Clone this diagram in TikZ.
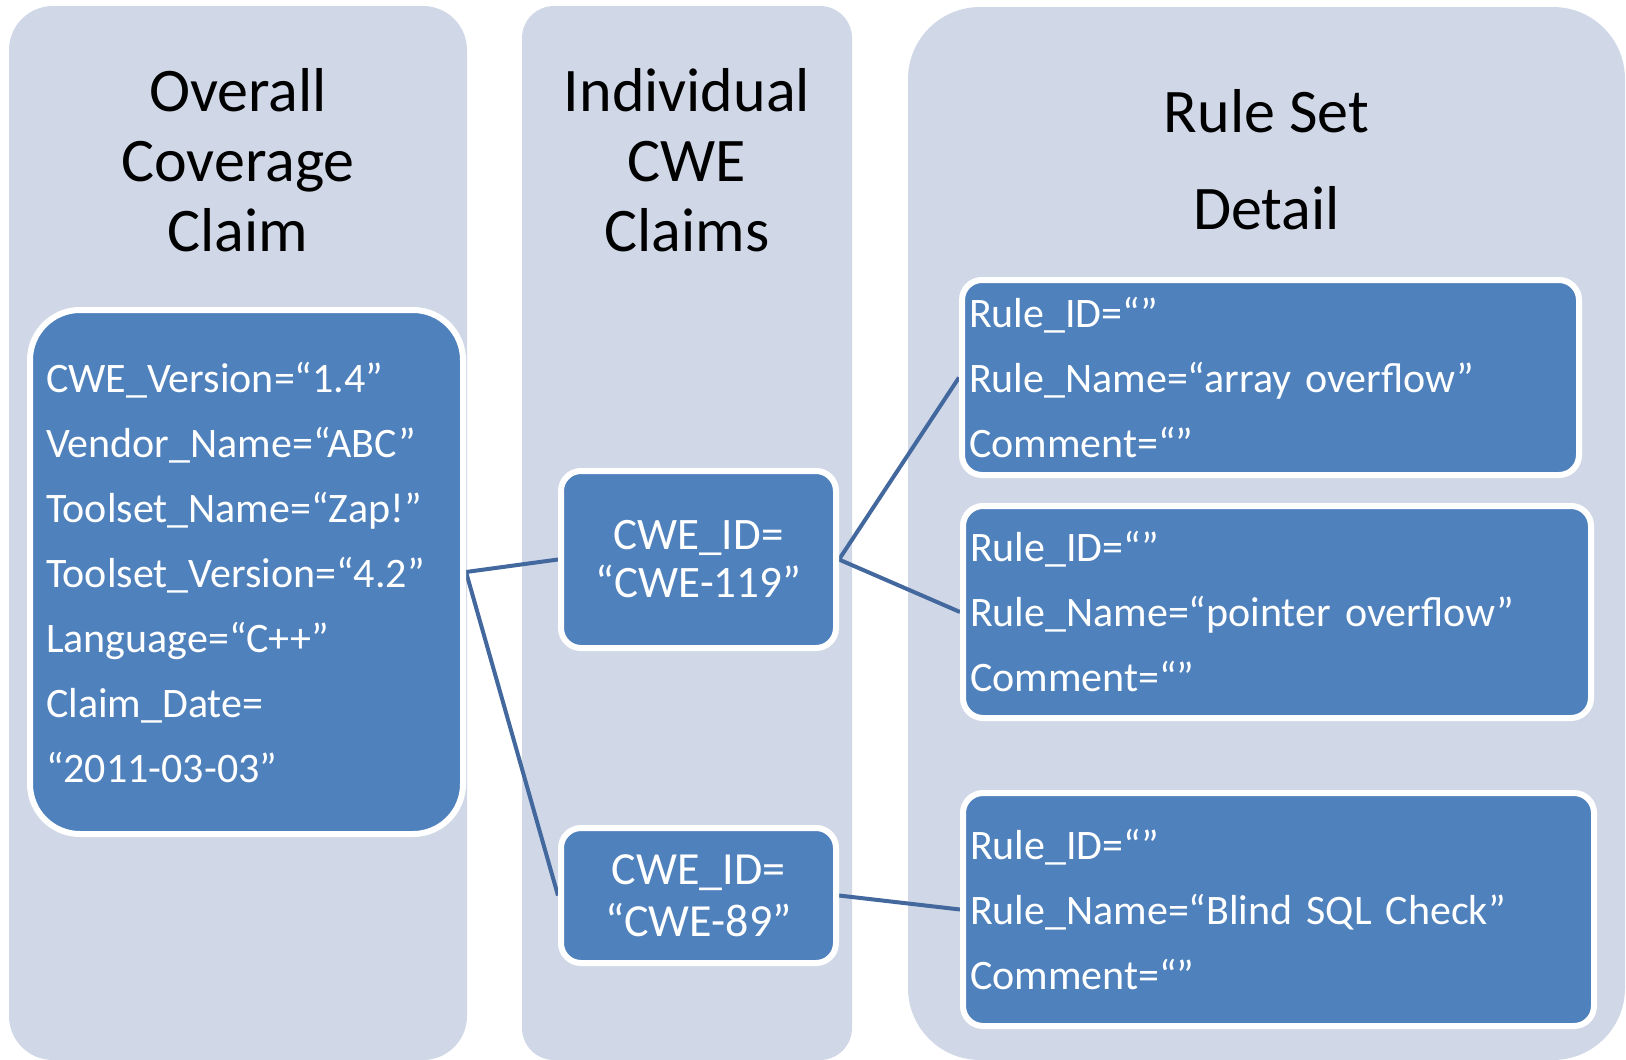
\documentclass[tikz,border=0pt]{standalone}
\usepackage{fontspec}
\setmainfont{Carlito}
\definecolor{panelbg}{RGB}{208,216,232}
\definecolor{boxblue}{RGB}{79,129,189}
\definecolor{linkblue}{RGB}{67,104,158}
\pgfdeclarelayer{panels}
\pgfdeclarelayer{links}
\pgfsetlayers{panels,links,main}

\begin{document}
\begin{tikzpicture}[x=1pt,y=-1pt,
  panel/.style={rectangle, fill=panelbg, draw=none, inner sep=0pt},
  title/.style={font=\fontsize{62}{70}\selectfont, align=center, inner sep=0pt, text=black},
  rec/.style={rectangle, fill=boxblue, draw=white, line width=6pt, text=white,
              rounded corners=20pt, inner ysep=0pt, font=\fontsize{42}{65}\selectfont},
  link/.style={draw=linkblue, line width=4pt}
]
\useasboundingbox (0,0) rectangle (1626,1060);

% column backgrounds
\begin{pgfonlayer}{panels}
  \node[panel, rounded corners=44pt, minimum width=458pt, minimum height=1054pt] (colA) at (238,533) {};
  \node[panel, rounded corners=32pt, minimum width=330pt, minimum height=1054pt] (colB) at (687,533) {};
  \node[panel, rounded corners=72pt, minimum width=717pt, minimum height=1053pt] (colC) at (1266.5,533.5) {};
\end{pgfonlayer}

% column headings
\node[title] (headA) at (238,160.5) {Overall\\Coverage\\Claim};
\node[title] (headB) at (687,160.5) {Individual\\CWE\\Claims};
\node[title, font=\fontsize{62}{97}\selectfont] (headC) at (1266.5,160) {Rule Set\\Detail};

% overall claim
\node[rec, rounded corners=50pt, minimum width=433pt, minimum height=524pt,
      text width=401pt, inner xsep=16pt, align=left] (overall) at (246.5,572)
  {CWE\_Version=“1.4”\\Vendor\_Name=“ABC”\\Toolset\_Name=“Zap!”\\Toolset\_Version=“4.2”\\Language=“C++”\\Claim\_Date=\\“2011-03-03”};

% individual CWE claims
\node[rec, minimum width=275pt, minimum height=177pt, inner xsep=0pt, align=center,
      font=\fontsize{45}{48}\selectfont] (cweA) at (698.5,559.5) {CWE\_ID=\\“CWE-119”};
\node[rec, minimum width=275pt, minimum height=135pt, inner xsep=0pt, align=center,
      font=\fontsize{46}{52}\selectfont] (cweB) at (698.5,895.5) {CWE\_ID=\\“CWE-89”};

% rule set details
\node[rec, minimum width=617pt, minimum height=195pt, text width=603pt, inner xsep=7pt, align=left]
  (ruleA) at (1270.5,377.5) {Rule\_ID=“”\\Rule\_Name=“array overflow”\\Comment=“”};
\node[rec, minimum width=628pt, minimum height=212pt, text width=614pt, inner xsep=7pt, align=left]
  (ruleB) at (1277,612) {Rule\_ID=“”\\Rule\_Name=“pointer overflow”\\Comment=“”};
\node[rec, minimum width=631pt, minimum height=233pt, text width=617pt, inner xsep=7pt, align=left]
  (ruleC) at (1278.5,909.5) {Rule\_ID=“”\\Rule\_Name=“Blind SQL Check”\\Comment=“”};

% connectors
\begin{pgfonlayer}{links}
  \draw[link] (overall.east) -- (cweA.west);
  \draw[link] (overall.east) -- (cweB.west);
  \draw[link] (cweA.east) -- (ruleA.west);
  \draw[link] (cweA.east) -- (ruleB.west);
  \draw[link] (cweB.east) -- (ruleC.west);
\end{pgfonlayer}
\end{tikzpicture}
\end{document}
